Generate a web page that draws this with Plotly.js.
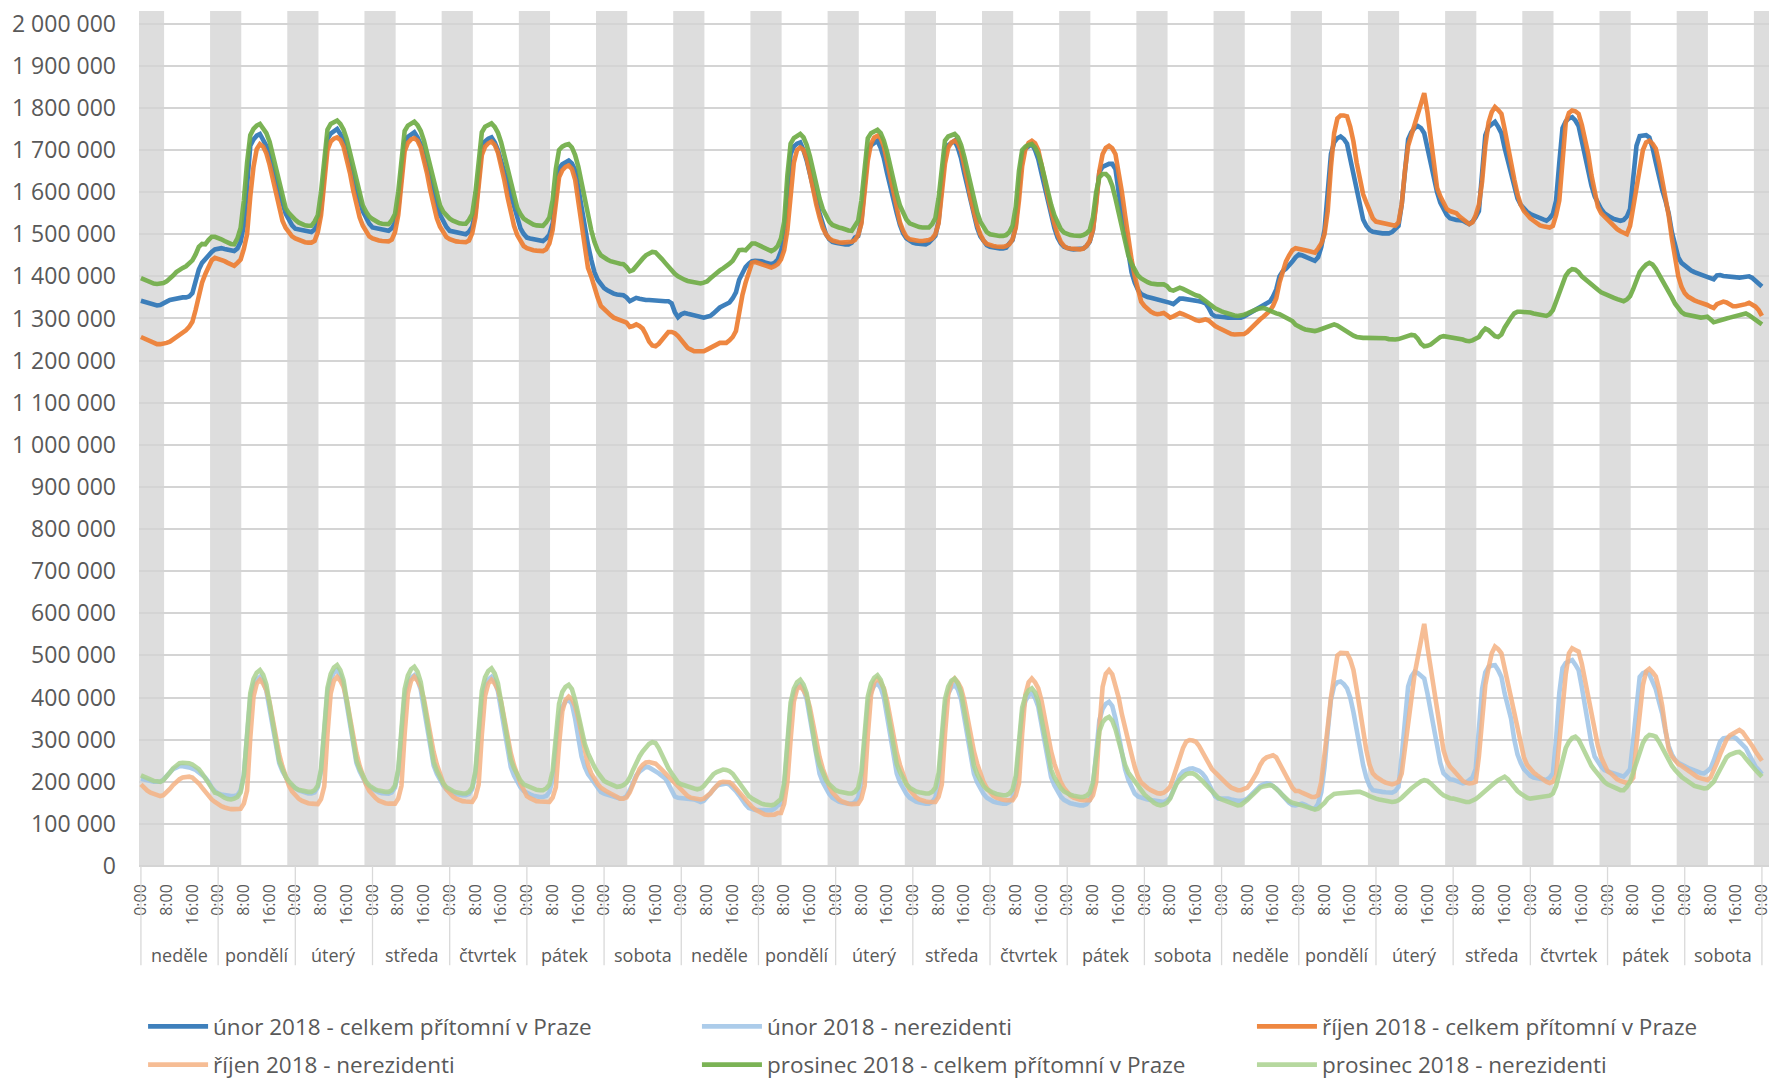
<!DOCTYPE html>
<html><head><meta charset="utf-8">
<script src="https://cdn.plot.ly/plotly-3.0.1.min.js"></script>
<style>html,body{margin:0;padding:0;background:#fff}#chart{width:1773px;height:1081px}</style>
</head><body><div id="chart"></div>
<script>
// day names (categories, 21 days) and hour tick labels
const days = ["neděle","pondělí","úterý","středa","čtvrtek","pátek","sobota","neděle","pondělí","úterý","středa","čtvrtek","pátek","sobota","neděle","pondělí","úterý","středa","čtvrtek","pátek","sobota"];
const hourLabels = ["0:00","8:00","16:00"];
const seriesNames = ["únor 2018 - celkem přítomní v Praze","únor 2018 - nerezidenti","říjen 2018 - celkem přítomní v Praze","říjen 2018 - nerezidenti","prosinec 2018 - celkem přítomní v Praze","prosinec 2018 - nerezidenti"];
// night hours shaded (from 21:30 to 7:10)
const nightFrom = 21.5, nightTo = 7.2;

// hourly values in thousands of persons, one row per day, final value = 0:00 after last day
const unorCelkem = [
1342,1340,1337,1334,1332,1331,1332,1335,1340,1344,1346,1348,1349,1350,1350,1352,1360,1390,1416,1432,1442,1450,1458,1464,
1466,1467,1465,1463,1461,1460,1466,1482,1521,1624,1710,1725,1734,1738,1726,1710,1684,1659,1633,1603,1575,1549,1533,1521,
1513,1511,1509,1507,1505,1505,1511,1525,1559,1650,1726,1739,1746,1750,1738,1721,1694,1668,1641,1610,1581,1554,1537,1525,
1516,1514,1512,1510,1508,1508,1514,1527,1559,1646,1719,1731,1738,1742,1730,1713,1686,1660,1633,1602,1573,1546,1529,1517,
1508,1506,1504,1502,1500,1500,1506,1518,1551,1636,1707,1720,1727,1730,1718,1700,1673,1646,1619,1587,1558,1531,1514,1501,
1492,1490,1488,1486,1484,1484,1490,1499,1526,1597,1656,1666,1672,1675,1668,1652,1610,1560,1515,1475,1440,1410,1392,1380,
1372,1367,1362,1359,1357,1356,1355,1350,1341,1345,1349,1347,1345,1344,1344,1343,1343,1343,1342,1341,1341,1336,1315,1303,
1310,1313,1311,1309,1307,1305,1303,1302,1304,1306,1312,1320,1326,1330,1333,1338,1348,1362,1392,1410,1422,1430,1436,1437,
1437,1436,1433,1430,1429,1432,1440,1460,1488,1600,1690,1708,1715,1718,1700,1675,1640,1605,1580,1550,1520,1500,1488,1482,
1480,1478,1477,1476,1476,1480,1492,1496,1530,1621,1697,1711,1718,1722,1705,1680,1645,1610,1580,1550,1522,1502,1490,1484,
1480,1478,1477,1476,1476,1480,1490,1496,1530,1621,1697,1711,1718,1722,1705,1680,1645,1610,1578,1545,1515,1495,1482,1474,
1470,1468,1467,1466,1466,1468,1478,1486,1521,1612,1689,1703,1710,1714,1700,1678,1645,1610,1578,1545,1515,1492,1478,1470,
1466,1465,1464,1464,1464,1466,1472,1482,1510,1585,1648,1660,1665,1667,1667,1655,1600,1555,1500,1450,1410,1385,1368,1358,
1353,1351,1349,1347,1345,1344,1342,1341,1337,1334,1340,1347,1347,1346,1345,1345,1343,1341,1339,1336,1325,1310,1305,1305,
1304,1303,1302,1302,1302,1302,1302,1305,1309,1313,1317,1321,1325,1329,1333,1340,1352,1369,1400,1412,1418,1425,1435,1445,
1452,1450,1447,1444,1440,1437,1445,1470,1510,1600,1690,1718,1728,1732,1726,1715,1680,1640,1600,1565,1535,1520,1510,1506,
1504,1503,1502,1502,1502,1505,1512,1520,1570,1660,1725,1742,1752,1757,1752,1740,1705,1668,1630,1600,1575,1558,1546,1538,
1535,1534,1533,1532,1528,1524,1530,1540,1555,1640,1735,1755,1762,1767,1755,1740,1705,1672,1640,1610,1585,1570,1560,1553,
1548,1544,1540,1537,1535,1532,1538,1548,1580,1670,1752,1768,1775,1778,1770,1757,1720,1685,1650,1615,1590,1572,1560,1550,
1544,1540,1536,1534,1532,1534,1542,1560,1630,1710,1733,1735,1735,1730,1705,1670,1635,1605,1580,1550,1505,1470,1445,1432,
1425,1418,1414,1410,1407,1405,1403,1400,1396,1393,1402,1403,1401,1400,1399,1398,1397,1397,1398,1400,1400,1396,1390,1384,
1376];
const unorNerez = [
207,205,203,201,200,200,200,205,212,222,230,235,237,237,236,234,231,228,222,216,210,200,186,178,
172,170,168,167,166,166,168,180,217,308,398,429,443,449,438,416,373,318,274,244,225,209,198,190,
184,180,177,174,172,172,175,187,225,318,412,444,459,465,453,430,383,324,277,245,225,207,195,187,
182,178,175,173,172,172,175,186,223,312,402,433,447,453,442,419,373,316,271,239,219,202,191,182,
177,174,171,169,168,168,171,182,219,308,398,429,443,449,438,415,369,312,267,235,215,198,187,178,
173,170,167,165,164,164,166,175,205,280,352,378,390,394,385,350,300,260,235,218,208,198,185,176,
172,170,168,165,162,160,161,166,180,200,215,224,231,236,234,230,226,220,214,208,195,178,165,162,
161,160,160,160,158,155,152,155,163,172,182,190,193,195,196,193,186,178,168,156,146,138,134,133,
133,132,132,132,132,136,144,147,186,281,376,409,424,430,419,396,351,295,250,219,199,182,171,162,
157,153,151,149,148,148,152,162,199,291,383,414,428,434,423,400,354,297,251,220,199,182,171,162,
157,153,151,149,148,148,152,162,199,289,379,410,424,430,419,396,351,295,250,219,199,182,171,162,
157,153,151,149,148,148,152,161,195,279,363,392,405,410,399,378,336,282,240,211,192,176,165,157,
152,149,147,145,144,144,147,156,188,267,346,373,385,390,380,350,305,260,230,205,185,172,165,161,
160,158,157,156,155,153,152,156,162,180,200,215,224,229,231,232,230,226,220,210,195,178,165,160,
160,162,160,158,156,155,155,156,160,168,176,184,190,194,196,195,190,184,176,166,158,150,145,144,
146,148,145,140,137,136,148,175,235,320,395,428,436,438,432,422,400,365,320,280,240,210,190,180,
178,177,176,175,174,174,178,188,260,360,426,450,461,458,452,445,410,370,325,283,245,220,212,206,
205,202,199,196,198,204,210,230,325,420,460,473,476,477,465,449,410,380,350,300,265,245,230,222,
214,210,208,206,205,204,210,220,300,410,470,482,486,489,478,465,425,378,330,290,260,245,236,228,
224,222,220,217,214,212,220,230,300,390,449,458,461,455,440,420,390,362,320,285,265,252,245,240,
236,233,230,228,224,221,220,225,232,250,275,295,303,305,306,307,303,295,288,280,265,250,236,228,
218];
const rijenCelkem = [
1256,1252,1248,1244,1241,1239,1239,1240,1242,1245,1250,1256,1261,1266,1272,1280,1292,1320,1358,1385,1405,1422,1438,1444,
1442,1440,1436,1432,1428,1425,1432,1440,1465,1500,1590,1660,1702,1714,1708,1692,1665,1630,1590,1555,1532,1515,1503,1495,
1490,1486,1483,1481,1480,1480,1484,1505,1545,1620,1700,1720,1727,1730,1724,1708,1680,1645,1605,1568,1540,1520,1505,1495,
1490,1487,1485,1484,1483,1483,1487,1505,1545,1618,1697,1717,1725,1728,1722,1706,1678,1643,1603,1566,1538,1518,1503,1493,
1488,1485,1483,1482,1481,1481,1485,1502,1540,1610,1688,1708,1716,1720,1712,1694,1664,1628,1588,1550,1520,1498,1482,1472,
1467,1464,1462,1461,1460,1460,1464,1478,1510,1570,1635,1652,1660,1663,1655,1630,1580,1520,1465,1420,1400,1372,1350,1330,
1322,1315,1308,1302,1298,1296,1293,1290,1280,1282,1286,1282,1276,1262,1245,1236,1234,1240,1250,1262,1268,1268,1265,1258,
1248,1236,1230,1226,1222,1222,1222,1222,1226,1230,1234,1238,1242,1242,1242,1248,1256,1270,1315,1355,1385,1410,1432,1434,
1431,1429,1426,1423,1421,1424,1429,1440,1462,1510,1600,1670,1700,1706,1700,1680,1645,1605,1570,1540,1515,1500,1490,1485,
1482,1481,1480,1480,1480,1482,1486,1498,1525,1590,1675,1715,1730,1734,1728,1708,1672,1630,1590,1555,1528,1508,1494,1488,
1486,1485,1484,1484,1484,1486,1490,1500,1526,1588,1668,1705,1718,1722,1716,1698,1665,1625,1585,1550,1522,1500,1485,1477,
1474,1472,1471,1470,1470,1472,1476,1488,1515,1580,1662,1702,1717,1722,1716,1700,1668,1630,1590,1555,1525,1500,1482,1472,
1467,1466,1465,1464,1464,1466,1472,1484,1510,1570,1650,1690,1705,1710,1704,1690,1650,1600,1545,1490,1440,1400,1365,1340,
1330,1321,1316,1312,1310,1311,1313,1308,1302,1305,1310,1313,1310,1307,1305,1300,1296,1294,1296,1298,1295,1288,1282,1278,
1274,1270,1266,1263,1262,1262,1262,1263,1268,1276,1284,1291,1298,1304,1310,1318,1330,1348,1385,1412,1435,1450,1462,1467,
1466,1464,1462,1460,1458,1456,1466,1478,1500,1555,1660,1740,1775,1782,1782,1780,1755,1720,1670,1625,1595,1575,1555,1538,
1530,1528,1527,1526,1524,1522,1520,1528,1570,1650,1710,1735,1760,1785,1815,1835,1790,1730,1660,1610,1590,1575,1560,1555,
1552,1550,1542,1535,1528,1524,1528,1545,1570,1625,1710,1765,1790,1802,1795,1786,1750,1705,1668,1630,1595,1570,1555,1545,
1538,1532,1526,1521,1519,1517,1516,1520,1545,1580,1690,1765,1788,1794,1792,1786,1760,1730,1690,1640,1595,1565,1550,1542,
1536,1528,1520,1512,1507,1503,1500,1520,1565,1625,1670,1700,1718,1722,1715,1703,1670,1630,1590,1545,1490,1440,1400,1375,
1360,1352,1346,1343,1340,1338,1336,1332,1328,1325,1334,1338,1340,1338,1333,1329,1329,1330,1331,1334,1337,1333,1328,1320,
1306];
const rijenNerez = [
194,186,179,174,171,168,166,168,174,183,192,200,206,210,212,212,210,204,196,186,176,166,158,152,
146,142,139,136,135,135,136,136,148,179,304,402,433,442,433,418,389,345,300,265,236,212,191,177,
168,160,155,151,149,148,147,147,159,189,313,410,440,449,440,425,395,350,305,268,238,214,193,178,
168,161,155,151,149,148,148,148,160,190,314,410,440,449,440,425,396,351,306,271,241,217,197,182,
172,165,160,156,154,153,152,152,164,193,312,404,433,442,433,419,390,346,303,268,239,216,196,181,
166,161,157,154,153,152,152,152,162,187,288,367,394,402,396,380,350,310,270,240,220,205,195,186,
180,176,172,168,164,160,160,163,175,195,215,230,240,246,247,246,243,236,228,220,212,204,196,190,
180,172,166,162,160,159,158,160,165,172,182,192,198,200,200,199,193,184,174,163,154,147,140,134,
129,125,122,121,121,122,126,126,148,200,300,390,420,426,417,404,376,334,292,259,231,208,189,175,
165,158,153,150,148,147,147,148,160,190,310,406,436,445,436,422,392,348,304,269,240,216,196,181,
170,163,158,155,153,152,152,152,164,193,313,407,436,445,436,422,393,350,306,272,243,220,199,185,
174,167,162,159,157,156,156,156,168,196,315,407,436,445,436,422,393,350,306,272,243,220,199,185,
174,167,162,159,157,156,156,156,168,199,326,425,456,465,455,430,400,360,325,295,265,235,212,198,
190,185,180,176,173,172,174,180,188,210,235,259,280,295,299,298,295,285,270,256,242,230,222,214,
208,200,192,186,182,180,180,182,186,196,208,222,240,252,258,262,263,258,244,228,212,198,186,178,
178,174,170,166,164,164,168,200,255,330,400,455,500,506,506,505,490,465,420,370,320,275,240,220,
212,206,202,198,196,194,196,200,220,280,355,410,455,495,535,575,520,470,410,360,310,275,250,236,
228,220,210,202,198,196,197,200,260,360,430,470,505,521,515,505,470,434,395,355,320,285,258,240,
230,222,216,210,205,200,197,200,215,300,380,455,505,517,513,509,480,440,395,355,325,285,258,238,
225,220,212,206,202,200,197,200,210,290,375,430,462,468,460,450,420,380,325,278,260,250,242,238,
232,226,220,215,211,208,205,204,210,225,245,265,285,300,310,315,320,323,318,308,298,285,272,260,
250];
const prosinecCelkem = [
1396,1392,1388,1385,1383,1382,1382,1384,1388,1394,1402,1410,1416,1420,1424,1430,1438,1452,1470,1477,1476,1486,1494,1494,
1492,1488,1484,1480,1477,1476,1490,1515,1580,1670,1735,1750,1758,1762,1752,1740,1720,1690,1655,1620,1590,1562,1550,1540,
1534,1528,1524,1521,1520,1520,1530,1545,1600,1690,1748,1762,1767,1770,1762,1748,1725,1695,1660,1625,1595,1568,1553,1542,
1536,1531,1527,1525,1524,1524,1533,1548,1600,1688,1745,1758,1764,1767,1759,1745,1722,1692,1658,1624,1594,1568,1553,1543,
1537,1532,1528,1526,1525,1525,1534,1548,1598,1685,1742,1755,1760,1763,1755,1741,1718,1688,1654,1620,1590,1563,1548,1537,
1532,1527,1523,1521,1520,1520,1528,1540,1580,1655,1700,1708,1712,1714,1706,1688,1660,1620,1585,1545,1510,1482,1462,1450,
1444,1440,1436,1433,1432,1430,1429,1422,1412,1415,1425,1433,1442,1450,1455,1458,1457,1450,1441,1432,1422,1413,1406,1400,
1395,1392,1389,1387,1385,1383,1383,1385,1388,1395,1402,1409,1414,1419,1423,1430,1437,1448,1462,1463,1462,1470,1478,1478,
1474,1470,1466,1463,1460,1464,1472,1490,1530,1640,1715,1728,1734,1738,1730,1712,1685,1650,1615,1585,1560,1542,1530,1522,
1518,1516,1514,1511,1509,1508,1518,1532,1580,1670,1728,1740,1745,1748,1740,1722,1695,1660,1625,1595,1568,1548,1535,1526,
1522,1519,1517,1516,1516,1516,1524,1538,1585,1668,1722,1732,1736,1738,1730,1712,1684,1648,1612,1580,1552,1530,1515,1505,
1500,1498,1497,1496,1496,1498,1505,1520,1565,1650,1700,1708,1712,1714,1706,1690,1665,1630,1598,1570,1545,1525,1512,1504,
1500,1498,1497,1496,1496,1498,1502,1510,1540,1600,1635,1643,1643,1635,1615,1585,1550,1515,1480,1450,1430,1415,1402,1395,
1389,1386,1383,1381,1381,1381,1381,1377,1368,1366,1370,1373,1370,1366,1362,1358,1355,1353,1348,1342,1335,1330,1324,1319,
1317,1314,1311,1309,1307,1306,1307,1309,1312,1316,1319,1322,1324,1325,1322,1318,1315,1312,1310,1306,1302,1298,1294,1285,
1280,1277,1274,1272,1270,1270,1272,1275,1278,1282,1285,1286,1283,1278,1272,1267,1262,1259,1256,1254,1254,1254,1254,1254,
1254,1254,1254,1253,1251,1250,1250,1251,1254,1257,1259,1261,1260,1252,1240,1234,1235,1238,1244,1250,1256,1258,1257,1255,
1254,1254,1253,1250,1247,1246,1248,1252,1256,1268,1276,1272,1264,1258,1256,1262,1278,1292,1302,1312,1316,1316,1316,1316,
1314,1312,1310,1308,1306,1306,1310,1320,1340,1362,1385,1402,1412,1417,1416,1410,1400,1393,1387,1380,1374,1368,1362,1358,
1357,1353,1349,1346,1343,1341,1345,1353,1370,1392,1410,1420,1428,1432,1428,1418,1405,1392,1380,1365,1350,1335,1324,1315,
1310,1308,1306,1304,1303,1302,1303,1304,1298,1291,1293,1296,1298,1300,1302,1304,1306,1308,1310,1312,1308,1302,1296,1292,
1286];
const prosinecNerez = [
215,212,208,204,202,201,200,204,212,222,232,239,244,245,245,244,241,236,230,220,208,194,182,174,
172,166,162,159,158,160,164,175,215,312,410,444,459,465,454,431,385,327,281,250,230,212,201,192,
185,181,179,177,176,176,180,191,230,326,423,456,471,477,465,441,393,333,284,251,230,212,200,191,
185,181,179,177,176,176,180,191,229,324,420,452,467,473,461,437,389,329,280,247,226,208,196,187,
181,178,175,173,172,172,176,187,225,320,416,448,463,469,457,434,388,330,284,252,232,215,203,194,
190,186,183,181,180,180,184,193,225,305,385,413,425,430,420,394,355,318,290,268,250,235,222,210,
202,198,194,190,188,189,192,198,210,228,245,260,272,283,290,294,292,280,262,245,232,220,208,198,
194,191,188,186,184,182,184,190,200,210,218,223,227,229,228,225,219,208,196,186,176,166,160,155,
150,148,146,145,144,146,152,159,198,293,388,421,436,442,431,410,366,312,269,240,221,204,194,186,
180,177,175,173,172,172,176,186,223,312,402,433,447,453,442,419,374,318,273,242,223,206,194,186,
180,177,175,173,172,172,176,186,221,309,396,426,440,445,434,412,367,312,268,238,218,201,190,182,
177,174,171,169,168,168,172,181,214,295,376,404,417,422,412,391,350,298,257,229,210,195,185,177,
172,169,167,165,164,164,167,174,198,259,320,341,350,354,345,325,295,262,240,222,212,200,188,178,
170,163,156,150,146,144,146,150,160,178,195,205,212,218,220,220,216,210,202,194,186,178,168,162,
158,155,152,149,146,144,145,150,157,164,172,180,186,189,191,192,190,184,176,168,160,154,150,147,
146,144,141,138,135,134,136,142,150,160,167,171,172,173,173,174,174,175,176,176,174,170,166,162,
160,158,156,154,152,152,153,156,162,170,177,184,190,196,201,204,202,196,188,180,174,168,164,161,
160,158,155,153,152,152,155,159,165,172,180,186,192,198,204,208,212,206,196,186,178,172,166,162,
160,161,162,163,164,164,167,172,190,220,255,280,295,304,307,300,285,268,250,238,228,218,208,200,
194,190,186,183,180,180,188,200,225,250,275,292,305,311,310,307,295,280,262,250,238,228,218,212,
206,200,195,190,188,186,184,185,192,200,215,230,245,258,264,268,270,271,265,255,245,237,228,220,
212];

const seriesValues = [unorCelkem, unorNerez, rijenCelkem, rijenNerez, prosinecCelkem, prosinecNerez];
const seriesColors = ["#2E75B6","#9DC3E6","#ED7D31","#F4B183","#70AD47","#A9D18E"];
const seriesOpacity = [0.92,0.85,0.92,0.85,0.92,0.85];
// legend slot of each series: [column, row]
const legendSlots = [[0,0],[1,0],[2,0],[0,1],[1,1],[2,1]];
const legendColX = [0.0025, 0.3423, 0.6828];
const legendRowY = [-0.1880, -0.2327];

const hours = unorCelkem.map((_, i) => i);
const xMin = -0.6, xMax = 506.2;

const traces = seriesValues.map((vals, k) => ({
  type: 'scatter', mode: 'lines',
  x: hours, y: vals.map(v => v * 1000),
  name: seriesNames[k],
  line: {color: seriesColors[k], width: 4.6},
  opacity: seriesOpacity[k],
  legend: k === 0 ? 'legend' : 'legend' + (k + 1),
  hoverinfo: 'skip'
}));

// x ticks every 8 hours
const tickvals = [], ticktext = [];
for (let d = 0; d <= days.length; d++) {
  hourLabels.forEach((lab, j) => {
    const h = d * 24 + j * 8;
    if (h <= hours.length - 1) { tickvals.push(h); ticktext.push(lab); }
  });
}

const shapes = [];
// night bands
for (let d = 0; d <= days.length; d++) {
  shapes.push({type: 'rect', xref: 'x', yref: 'paper', layer: 'below',
    x0: Math.max(xMin, d * 24 - (24 - nightFrom)), x1: Math.min(xMax, d * 24 + nightTo),
    y0: 0, y1: 1, fillcolor: '#dddddd', line: {width: 0}});
}
// day dividers under the axis
for (let d = 0; d <= days.length; d++) {
  shapes.push({type: 'line', xref: 'x', yref: 'paper', x0: d * 24, x1: d * 24,
    y0: 0, y1: -0.116, line: {color: '#d9d9d9', width: 1.3}});
}
const annotations = days.map((name, d) => ({
  x: d * 24 + 12, xref: 'x', y: -0.104, yref: 'paper', text: name, showarrow: false,
  xanchor: 'center', yanchor: 'middle', font: {size: 18, color: '#595959'}
}));

const layout = {
  width: 1773, height: 1081,
  margin: {l: 139, r: 4, t: 11, b: 215, autoexpand: false},
  paper_bgcolor: '#ffffff', plot_bgcolor: '#ffffff',
  font: {family: 'Open Sans, sans-serif', color: '#595959'},
  separators: ', ',
  showlegend: true,
  xaxis: {
    range: [xMin, xMax], tickmode: 'array', tickvals: tickvals, ticktext: ticktext,
    tickangle: -90, tickfont: {size: 16, color: '#595959'}, showgrid: false, zeroline: false,
    showline: false, ticks: '', ticklabelstandoff: 14, fixedrange: true, automargin: false
  },
  yaxis: {
    range: [0, 2030000], tick0: 0, dtick: 100000, tickformat: ',d',
    tickfont: {size: 23, color: '#595959'}, showgrid: true, gridcolor: '#d4d4d4', gridwidth: 2,
    zeroline: true, zerolinecolor: '#d4d4d4', zerolinewidth: 2, showline: false, ticks: '',
    ticklabelstandoff: 22, fixedrange: true, automargin: false
  },
  shapes: shapes,
  annotations: annotations
};
// one legend per entry, placed in a 3 x 2 grid
legendSlots.forEach((slot, k) => {
  const key = k === 0 ? 'legend' : 'legend' + (k + 1);
  layout[key] = {orientation: 'h', xref: 'paper', yref: 'paper', xanchor: 'left', yanchor: 'middle',
    x: legendColX[slot[0]], y: legendRowY[slot[1]], itemwidth: 60,
    font: {size: 22.5, color: '#595959', family: 'Open Sans'},
    bgcolor: 'rgba(0,0,0,0)', borderwidth: 0, itemclick: false, itemdoubleclick: false};
});

Plotly.newPlot('chart', traces, layout, {displayModeBar: false, staticPlot: true});
</script>
</body></html>
